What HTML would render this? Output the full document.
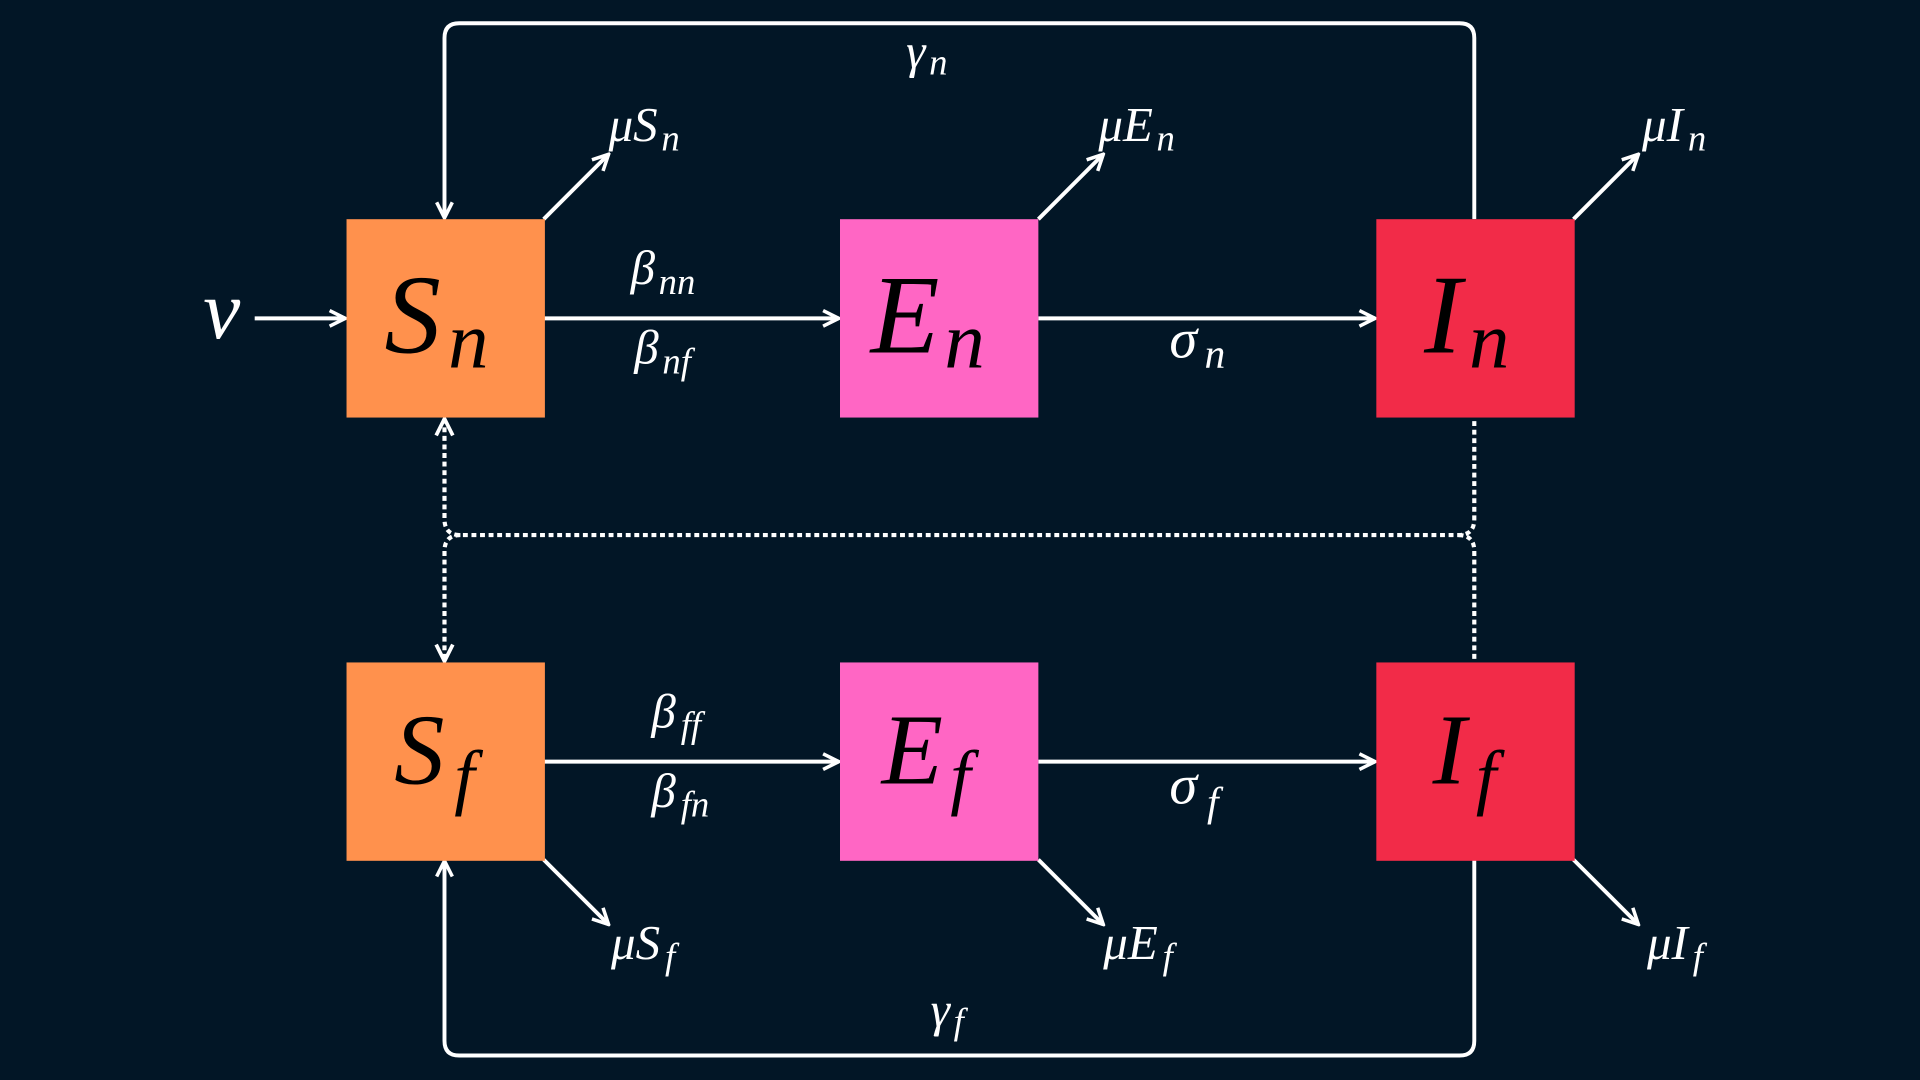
<!DOCTYPE html>
<html><head><meta charset="utf-8"><style>
html,body{margin:0;padding:0;background:#021626;}
svg{display:block}
text{font-family:"Liberation Serif",serif;font-style:italic;}
</style></head><body>
<svg width="1920" height="1080" viewBox="0 0 1568 882">
<defs>
<marker id="ah" viewBox="0 0 10 10" refX="9" refY="5" markerWidth="5" markerHeight="5" orient="auto-start-reverse"><path d="M1,1 L9,5 L1,9" fill="none" stroke="#fff" stroke-width="1.8"/></marker>
</defs>
<rect width="1568" height="882" fill="#021626"/>
<g stroke="#fff" stroke-width="3.2" fill="none">
<path d="M1204,179 V31 Q1204,19 1192,19 H375 Q363,19 363,31 V178" marker-end="url(#ah)"/>
<path d="M1204,702 V850 Q1204,862 1192,862 H375 Q363,862 363,850 V703" marker-end="url(#ah)"/>
<path d="M208,260 H282" marker-end="url(#ah)"/>
<path d="M444,260 H685" marker-end="url(#ah)"/>
<path d="M848,260 H1123" marker-end="url(#ah)"/>
<path d="M444,622 H685" marker-end="url(#ah)"/>
<path d="M848,622 H1123" marker-end="url(#ah)"/>
<path d="M444,179 L497,126" marker-end="url(#ah)"/>
<path d="M848,179 L901,126" marker-end="url(#ah)"/>
<path d="M1285,179 L1338,126" marker-end="url(#ah)"/>
<path d="M444,702 L497,755" marker-end="url(#ah)"/>
<path d="M848,702 L901,755" marker-end="url(#ah)"/>
<path d="M1285,702 L1338,755" marker-end="url(#ah)"/>
</g>
<g stroke="#fff" stroke-width="3.4" fill="none" stroke-dasharray="4,3">
<path d="M363,342 V424 Q363,437 376,437 H1191 Q1204,437 1204,424 V341" marker-start="url(#ah)"/>
<path d="M376,437 Q363,437 363,450 V540" marker-end="url(#ah)"/>
<path d="M1191,437 Q1204,437 1204,450 V541"/>
</g>
<rect x="283" y="179" width="162" height="162" fill="#FF914D"/>
<rect x="686" y="179" width="162" height="162" fill="#FF66C4"/>
<rect x="1124" y="179" width="162" height="162" fill="#F22B48"/>
<rect x="283" y="541" width="162" height="162" fill="#FF914D"/>
<rect x="686" y="541" width="162" height="162" fill="#FF66C4"/>
<rect x="1124" y="541" width="162" height="162" fill="#F22B48"/>
<g fill="#000" font-size="92">
<text x="314" y="288">S<tspan font-size="66" dx="6" dy="12">n</tspan></text>
<text x="711" y="288">E<tspan font-size="66" dx="4" dy="12">n</tspan></text>
<text x="1163" y="288">I<tspan font-size="66" dx="6" dy="12">n</tspan></text>
<text x="322" y="640" font-size="82">S<tspan font-size="60" dx="8" dy="14">f</tspan></text>
<text x="720" y="640" font-size="82">E<tspan font-size="60" dx="6" dy="14">f</tspan></text>
<text x="1170" y="640" font-size="82">I<tspan font-size="60" dx="8" dy="14">f</tspan></text>
</g>
<g fill="#fff" font-size="40">
<text x="166" y="276" font-size="68">ν</text>
<text x="740" y="55">γ<tspan font-size="30" dx="3" dy="6">n</tspan></text>
<text x="760" y="838">γ<tspan font-size="30" dx="3" dy="6">f</tspan></text>
<text x="497" y="115">μS<tspan font-size="30" dx="3" dy="8">n</tspan></text>
<text x="897" y="115">μE<tspan font-size="30" dx="3" dy="8">n</tspan></text>
<text x="1341" y="115">μI<tspan font-size="30" dx="4" dy="8">n</tspan></text>
<text x="499" y="783">μS<tspan font-size="30" dx="4" dy="8">f</tspan></text>
<text x="901" y="783">μE<tspan font-size="30" dx="4" dy="8">f</tspan></text>
<text x="1345" y="783">μI<tspan font-size="30" dx="4" dy="8">f</tspan></text>
<text x="515" y="232">β<tspan font-size="30" dx="3" dy="8">nn</tspan></text>
<text x="518" y="297">β<tspan font-size="30" dx="3" dy="8">nf</tspan></text>
<text x="955" y="292" font-size="46">σ<tspan font-size="34" dx="6" dy="8">n</tspan></text>
<text x="532" y="594">β<tspan font-size="30" dx="4" dy="8">ff</tspan></text>
<text x="532" y="659">β<tspan font-size="30" dx="4" dy="8">fn</tspan></text>
<text x="955" y="656" font-size="46">σ<tspan font-size="34" dx="8" dy="10">f</tspan></text>
</g>
</svg>
</body></html>
